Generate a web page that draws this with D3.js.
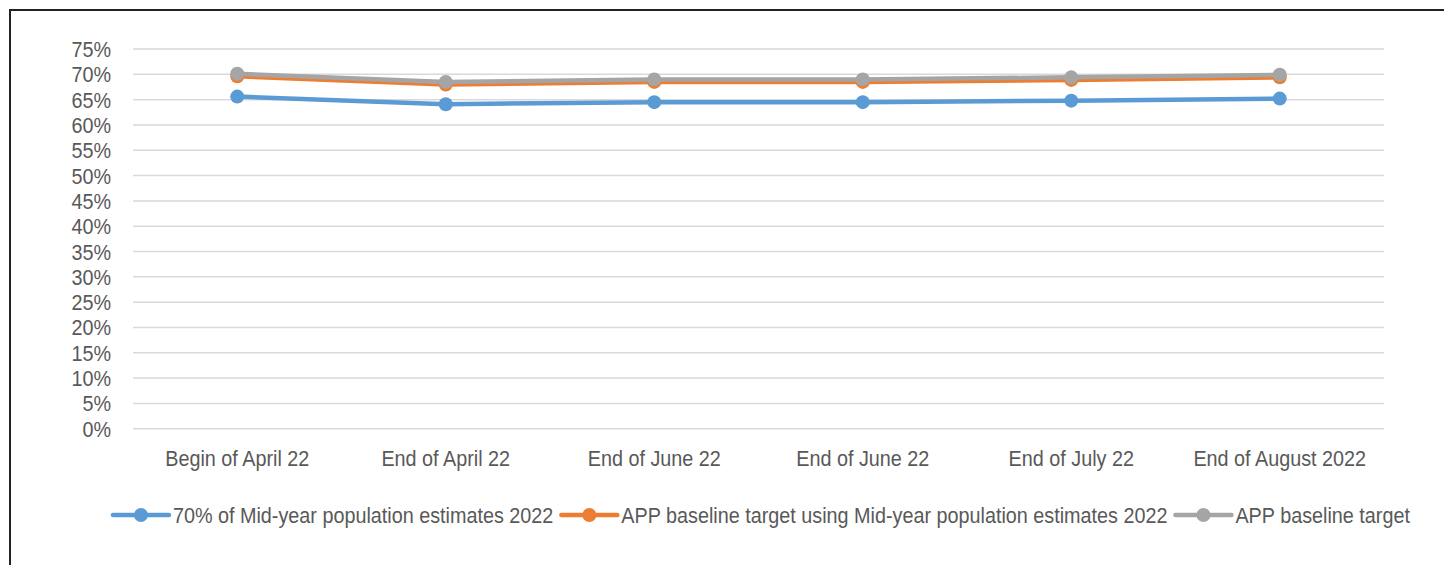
<!DOCTYPE html>
<html>
<head>
<meta charset="utf-8">
<script src="https://cdn.jsdelivr.net/npm/d3@7"></script>
<style>
  body { margin: 0; background: #fff; }
  svg { display: block; font-family: "Liberation Sans", Arial, sans-serif; }
</style>
</head>
<body>
<div id="chart"></div>
<script>
// data
const categories = ["Begin of April 22", "End of April 22", "End of June 22", "End of June 22", "End of July 22", "End of August 2022"];
const seriesNames = [
  "70% of Mid-year population estimates 2022",
  "APP baseline target using Mid-year population estimates 2022",
  "APP baseline target"
];
const midYear70 = [65.6, 64.1, 64.5, 64.5, 64.8, 65.2];
const appUsingMidYear = [69.6, 68.0, 68.5, 68.5, 68.9, 69.4];
const appBaseline = [70.1, 68.5, 69.0, 69.0, 69.4, 69.9];
const yTicks = d3.range(0, 80, 5);

const colors = ["#5b9bd5", "#ed7d31", "#a5a5a5"];
const allSeries = [midYear70, appUsingMidYear, appBaseline];

const width = 1444, height = 565;
const plot = { left: 133, right: 1384, top: 49, bottom: 428.7 };
const squeeze = 0.9; // text in the picture is a bit condensed

const svg = d3.select("#chart").append("svg")
  .attr("width", width)
  .attr("height", height);

// frame (only top and left edges are visible)
svg.append("path")
  .attr("d", `M10,${height} L10,10 L${width},10`)
  .attr("fill", "none")
  .attr("stroke", "#222")
  .attr("stroke-width", 2);

const x = d3.scalePoint()
  .domain(d3.range(categories.length))
  .range([plot.left, plot.right])
  .padding(0.5);

const y = d3.scaleLinear()
  .domain([0, 75])
  .range([plot.bottom, plot.top]);

// gridlines
svg.append("g")
  .selectAll("line")
  .data(yTicks)
  .join("line")
  .attr("x1", plot.left)
  .attr("x2", plot.right)
  .attr("y1", d => y(d))
  .attr("y2", d => y(d))
  .attr("stroke", "#d9d9d9")
  .attr("stroke-width", 1.5);

function label(g, text, tx, ty, anchor) {
  return g.append("text")
    .attr("transform", `translate(${tx},${ty}) scale(${squeeze},1)`)
    .attr("text-anchor", anchor)
    .attr("fill", "#595959")
    .attr("font-size", 22)
    .text(text);
}

// y labels
const yAxis = svg.append("g");
yTicks.forEach(t => label(yAxis, t + "%", 111, y(t) + 8, "end"));

// x labels
const xAxis = svg.append("g");
categories.forEach((c, i) => label(xAxis, c, x(i), 466, "middle"));

// series
const line = d3.line()
  .x((d, i) => x(i))
  .y(d => y(d));

allSeries.forEach((vals, s) => {
  const g = svg.append("g");
  g.append("path")
    .datum(vals)
    .attr("d", line)
    .attr("fill", "none")
    .attr("stroke", colors[s])
    .attr("stroke-width", 4.5)
    .attr("stroke-linejoin", "round")
    .attr("stroke-linecap", "round");
  g.selectAll("circle")
    .data(vals)
    .join("circle")
    .attr("cx", (d, i) => x(i))
    .attr("cy", d => y(d))
    .attr("r", 7)
    .attr("fill", colors[s]);
});

// legend
const legend = svg.append("g");
const symW = 56, gapText = 4, gapItem = 8, legY = 515;
const items = seriesNames.map((name, i) => {
  const g = legend.append("g");
  g.append("line")
    .attr("x1", 0).attr("x2", symW)
    .attr("y1", legY).attr("y2", legY)
    .attr("stroke", colors[i])
    .attr("stroke-width", 4.5)
    .attr("stroke-linecap", "round");
  g.append("circle")
    .attr("cx", symW / 2).attr("cy", legY)
    .attr("r", 7)
    .attr("fill", colors[i]);
  const t = label(g, name, symW + gapText, legY + 8, "start");
  const w = t.node().getBBox().width * squeeze;
  return { g, w: symW + gapText + w };
});
const total = d3.sum(items, d => d.w) + gapItem * (items.length - 1);
let cx = 761.5 - total / 2;
items.forEach(it => {
  it.g.attr("transform", `translate(${cx},0)`);
  cx += it.w + gapItem;
});
</script>
</body>
</html>
